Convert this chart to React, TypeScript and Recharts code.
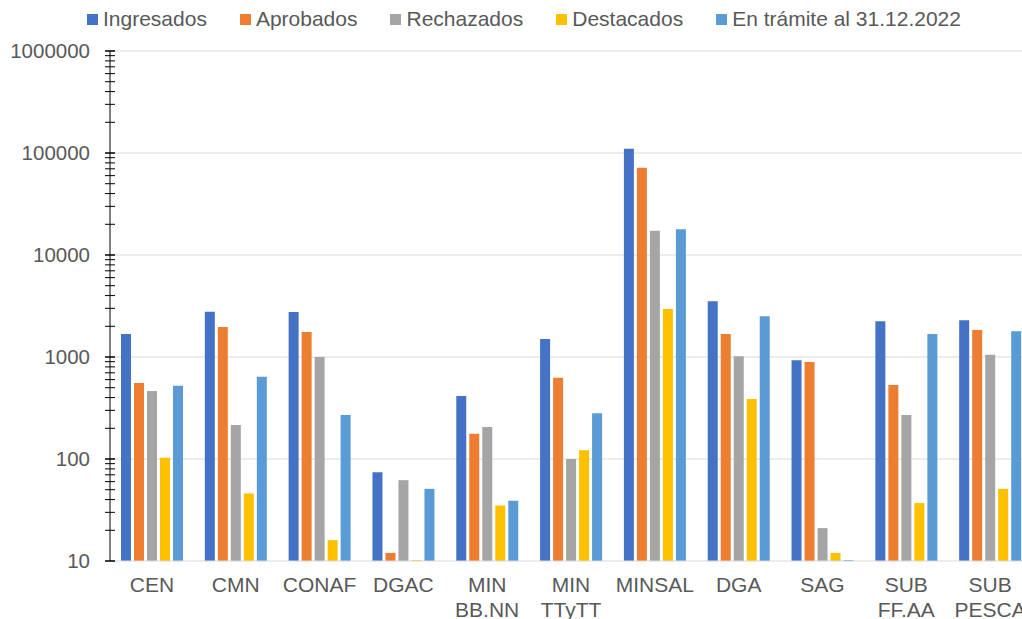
import { BarChart, Bar, XAxis, YAxis, CartesianGrid } from 'recharts';

// categorías (eje X)
const categories = ['CEN', 'CMN', 'CONAF', 'DGAC', 'MIN\nBB.NN', 'MIN\nTTyTT', 'MINSAL', 'DGA', 'SAG', 'SUB\nFF.AA', 'SUB\nPESCA'];

// valores por serie
const ingresados = [1680, 2780, 2760, 74, 415, 1500, 110000, 3520, 930, 2240, 2290];
const aprobados = [556, 1970, 1760, 12, 177, 627, 71800, 1680, 893, 531, 1840];
const rechazados = [464, 215, 1000, 62, 206, 100, 17300, 1016, 21, 270, 1054];
const destacados = [103, 46, 16, 10.2, 35, 122, 2953, 387, 12, 37, 51];
const enTramite = [523, 641, 270, 51, 39, 281, 17900, 2505, 10.2, 1680, 1790];

// ticks del eje Y (log)
const majorTicks = [10, 100, 1000, 10000, 100000, 1000000];
const minorTicks = majorTicks.slice(0, -1).flatMap((m) => [2, 3, 4, 5, 6, 7, 8, 9].map((k) => k * m));

const series = [
  { key: 'ingresados', name: 'Ingresados', color: '#4472C4', values: ingresados },
  { key: 'aprobados', name: 'Aprobados', color: '#ED7D31', values: aprobados },
  { key: 'rechazados', name: 'Rechazados', color: '#A5A5A5', values: rechazados },
  { key: 'destacados', name: 'Destacados', color: '#FFC000', values: destacados },
  { key: 'enTramite', name: 'En trámite al 31.12.2022', color: '#5B9BD5', values: enTramite },
];

const data = categories.map((c, i) => {
  const row: Record<string, string | number> = { name: c };
  series.forEach((s) => { row[s.key] = s.values[i]; });
  return row;
});

const FONT = '"Liberation Sans", Arial, sans-serif';
const TEXT = '#595959';

function XTick({ x, y, payload }: any) {
  const lines = String(payload.value).split('\n');
  return (
    <text x={x} y={y} textAnchor="middle" fill={TEXT} fontSize={21} fontFamily={FONT}>
      {lines.map((l, i) => (
        <tspan key={i} x={x} dy={i === 0 ? 31 : 24.5}>{l}</tspan>
      ))}
    </text>
  );
}

function YTick({ x, y, payload }: any) {
  const major = majorTicks.includes(payload.value);
  return (
    <g>
      <line x1={x - 5} x2={x + 5} y1={y} y2={y} stroke="#000" strokeWidth={major ? 1.5 : 1} />
      {major && (
        <text x={x - 20} y={y} dy="0.35em" textAnchor="end" fill={TEXT} fontSize={20.5} fontFamily={FONT}>
          {payload.value}
        </text>
      )}
    </g>
  );
}

export default function App() {
  return (
    <div style={{ position: 'fixed', left: 0, top: 0, width: 1022, height: 619, overflow: 'hidden', background: '#fff' }}>
      <div style={{ position: 'absolute', top: 7, left: 87, display: 'flex', gap: 33, fontFamily: FONT, fontSize: 21, lineHeight: '24px', color: TEXT, whiteSpace: 'nowrap' }}>
        {series.map((s) => (
          <div key={s.key} style={{ display: 'flex', alignItems: 'center' }}>
            <div style={{ width: 11, height: 11, background: s.color, marginRight: 5 }} />
            <span>{s.name}</span>
          </div>
        ))}
      </div>
      <BarChart width={1060} height={619} data={data} margin={{ top: 51, right: 28, bottom: 0, left: 0 }} barSize={10} barGap={3}>
        <CartesianGrid vertical={false} stroke="#d9d9d9" horizontalValues={majorTicks.slice(1)} />
        <XAxis dataKey="name" interval={0} height={58} tickLine={false} tickSize={0} tickMargin={0} axisLine={{ stroke: '#d9d9d9' }} tick={<XTick />} />
        <YAxis
          scale="log"
          domain={[10, 1000000]}
          allowDataOverflow
          ticks={[...majorTicks, ...minorTicks].sort((a, b) => a - b)}
          interval={0}
          width={110}
          tickLine={false}
          tickSize={0}
          tickMargin={0}
          axisLine={{ stroke: '#000' }}
          tick={<YTick />}
        />
        {series.map((s) => (
          <Bar key={s.key} dataKey={s.key} name={s.name} fill={s.color} isAnimationActive={false} />
        ))}
      </BarChart>
    </div>
  );
}
